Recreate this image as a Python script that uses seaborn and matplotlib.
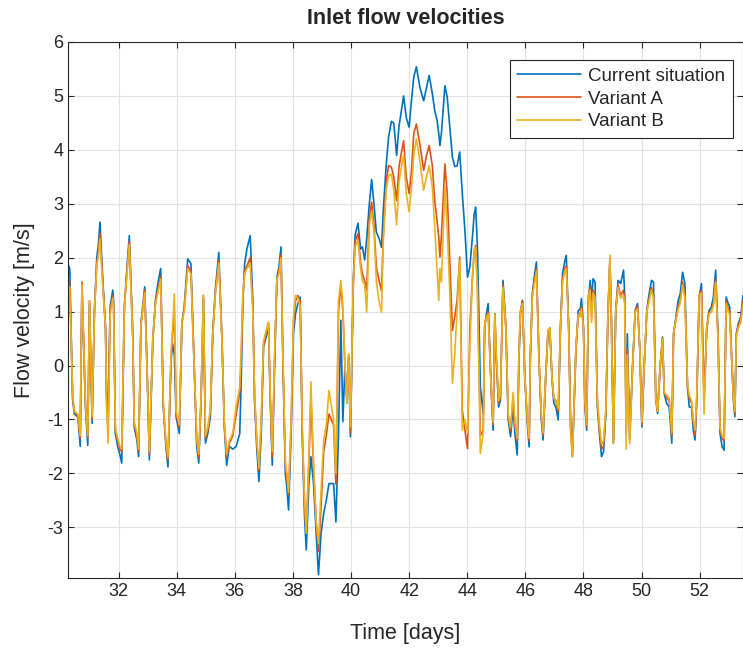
import pandas as pd
import seaborn as sns
import matplotlib.pyplot as plt

# time axis [days] at turning points
days = [
    30.25, 30.32, 30.42, 30.48, 30.60, 30.68, 30.74, 30.86, 30.94, 31.00,
    31.09, 31.17, 31.25, 31.31, 31.36, 31.46, 31.55, 31.59, 31.64, 31.71,
    31.80, 31.83, 31.89, 31.97, 32.05, 32.11, 32.20, 32.29, 32.37, 32.49,
    32.54, 32.63, 32.69, 32.77, 32.90, 32.98, 33.06, 33.18, 33.27, 33.37,
    33.45, 33.54, 33.63, 33.70, 33.81, 33.86, 33.92, 33.98, 34.09, 34.18,
    34.26, 34.38, 34.49, 34.61, 34.69, 34.76, 34.84, 34.92, 34.99, 35.07,
    35.16, 35.24, 35.33, 35.45, 35.56, 35.64, 35.72, 35.81, 35.93, 36.05,
    36.17, 36.22, 36.28, 36.34, 36.42, 36.53, 36.62, 36.68, 36.76, 36.83,
    36.91, 36.99, 37.08, 37.16, 37.22, 37.29, 37.37, 37.45, 37.52, 37.59,
    37.66, 37.74, 37.79, 37.85, 37.94, 38.02, 38.09, 38.17, 38.25, 38.32,
    38.40, 38.46, 38.55, 38.62, 38.71, 38.80, 38.88, 38.97, 39.06, 39.15,
    39.24, 39.40, 39.48, 39.57, 39.65, 39.72, 39.79, 39.86, 39.92, 39.98,
    40.08, 40.14, 40.24, 40.33, 40.39, 40.47, 40.54, 40.63, 40.71, 40.79,
    40.87, 40.97, 41.05, 41.11, 41.21, 41.29, 41.39, 41.47, 41.57, 41.65,
    41.74, 41.81, 41.90, 42.00, 42.08, 42.16, 42.25, 42.37, 42.50, 42.60,
    42.69, 42.80, 42.88, 42.96, 43.02, 43.06, 43.11, 43.23, 43.31, 43.40,
    43.49, 43.57, 43.65, 43.74, 43.83, 43.92, 44.01, 44.09, 44.18, 44.24,
    44.29, 44.35, 44.41, 44.45, 44.55, 44.60, 44.66, 44.72, 44.83, 44.89,
    44.95, 45.00, 45.08, 45.14, 45.23, 45.33, 45.41, 45.49, 45.58, 45.64,
    45.72, 45.78, 45.83, 45.90, 45.98, 46.06, 46.13, 46.17, 46.24, 46.32,
    46.38, 46.47, 46.55, 46.61, 46.70, 46.78, 46.84, 46.92, 46.98, 47.05,
    47.13, 47.21, 47.28, 47.36, 47.41, 47.49, 47.56, 47.62, 47.74, 47.82,
    47.89, 47.93, 48.00, 48.05, 48.11, 48.17, 48.23, 48.28, 48.33, 48.40,
    48.48, 48.55, 48.62, 48.69, 48.77, 48.84, 48.91, 48.96, 49.03, 49.11,
    49.19, 49.28, 49.38, 49.42, 49.47, 49.51, 49.59, 49.69, 49.78, 49.86,
    49.94, 50.01, 50.09, 50.18, 50.26, 50.34, 50.41, 50.49, 50.55, 50.64,
    50.72, 50.78, 50.86, 50.95, 51.04, 51.10, 51.18, 51.26, 51.33, 51.41,
    51.49, 51.58, 51.64, 51.72, 51.78, 51.84, 51.90, 51.98, 52.06, 52.15,
    52.24, 52.32, 52.40, 52.47, 52.55, 52.63, 52.70, 52.77, 52.84, 52.91,
    52.98, 53.03, 53.09, 53.16, 53.21, 53.26, 53.33, 53.41, 53.49,
]

# flow velocity [m/s]
current = [
    1.89, 1.80, -0.64, -0.90, -0.95, -1.50, 1.45, -0.77, -1.48, 1.15,
    -1.07, 1.02, 2.00, 2.26, 2.66, 1.58, 0.72, -0.58, -0.90, 1.09,
    1.40, 1.21, -1.26, -1.50, -1.66, -1.81, 1.09, 1.83, 2.41, 0.59,
    -1.14, -1.38, -1.69, 0.78, 1.46, -0.02, -1.75, 0.47, 1.21, 1.58,
    1.80, -0.77, -1.50, -1.88, 0.10, 0.40, 0.20, -0.95, -1.26, 0.78,
    1.09, 1.98, 1.89, -0.15, -1.50, -1.81, -0.64, 1.24, -1.44, -1.26,
    -0.95, 0.59, 1.40, 2.10, 0.47, -1.14, -1.85, -1.50, -1.55, -1.50,
    -1.26, -0.30, 1.21, 1.89, 2.17, 2.41, 1.21, -0.64, -1.57, -2.15,
    -1.26, 0.35, 0.53, 0.72, -0.64, -1.85, 0.00, 1.64, 1.83, 2.20,
    0.00, -2.00, -2.25, -2.68, -1.26, 0.59, 0.96, 1.15, 1.27, -1.26,
    -2.80, -3.42, -2.19, -1.69, -2.19, -3.11, -3.88, -3.11, -2.74, -2.50,
    -2.19, -2.19, -2.90, -1.26, 0.84, -1.04, 0.00, -0.64, 0.16, -1.32,
    1.57, 2.42, 2.64, 2.16, 2.20, 1.96, 2.35, 3.00, 3.45, 3.00,
    2.48, 2.35, 2.19, 2.87, 3.71, 4.23, 4.53, 4.50, 3.90, 4.43,
    4.75, 5.00, 4.60, 4.42, 4.91, 5.35, 5.54, 5.16, 4.91, 5.16,
    5.38, 5.04, 4.73, 4.55, 4.30, 4.08, 4.30, 5.19, 4.98, 4.42,
    3.86, 3.69, 3.70, 3.96, 3.19, 2.50, 1.64, 1.83, 2.40, 2.81,
    2.94, 2.20, 0.72, -0.40, -0.90, 0.72, 0.96, 1.15, -0.52, -1.20,
    0.96, 0.10, -0.77, -0.65, 1.58, 0.72, -1.00, -1.32, -0.77, -1.26,
    -1.66, 0.10, 0.96, 1.21, -0.21, -1.01, -1.51, 0.10, 1.33, 1.70,
    1.92, 0.10, -1.01, -1.38, -0.21, 0.62, 0.68, -0.27, -0.70, -0.77,
    -1.01, 0.72, 1.70, 1.95, 2.04, 0.72, -1.14, -1.69, 0.28, 1.02,
    1.05, 1.24, 0.72, -0.77, -1.20, 1.21, 1.58, 1.21, 1.61, 1.55,
    -0.77, -1.26, -1.69, -1.60, -0.90, 0.90, 1.95, 0.90, -1.44, 1.02,
    1.58, 1.52, 1.77, 1.30, -1.26, 0.59, -1.38, -0.02, 1.02, 1.15,
    0.28, -1.14, -0.02, 1.02, 1.33, 1.58, 1.55, -0.64, -0.89, -0.02,
    0.53, -0.52, -0.70, -0.77, -1.44, 0.59, 0.90, 1.21, 1.33, 1.73,
    1.52, -0.40, -0.77, -0.77, -1.20, -1.38, -0.64, 1.27, 1.52, -0.64,
    0.65, 1.02, 1.08, 1.27, 1.77, 0.59, -1.26, -1.50, -1.57, 1.27,
    1.15, 1.09, 0.28, -0.64, -0.95, 0.59, 0.78, 0.90, 1.30,
]

variant_a = [
    1.60, 1.55, -0.60, -0.85, -0.95, -1.35, 1.55, -0.70, -1.35, 1.20,
    -1.00, 1.00, 1.90, 2.10, 2.45, 1.50, 0.70, -0.70, -1.20, 1.00,
    1.30, 1.10, -1.20, -1.40, -1.55, -1.60, 1.10, 1.75, 2.30, 0.50,
    -1.10, -1.30, -1.60, 0.75, 1.40, -0.05, -1.65, 0.50, 1.15, 1.45,
    1.65, -0.75, -1.45, -1.75, 0.20, 0.60, 1.00, -0.90, -1.15, 0.80,
    1.05, 1.85, 1.75, -0.10, -1.40, -1.70, -0.60, 1.30, -1.35, -1.20,
    -0.85, 0.55, 1.35, 1.95, 0.45, -1.10, -1.70, -1.45, -1.30, -0.90,
    -0.50, 0.10, 1.30, 1.75, 1.85, 2.00, 1.10, -0.60, -1.45, -1.95,
    -1.10, 0.40, 0.60, 0.80, -0.60, -1.70, 0.10, 1.60, 1.75, 2.05,
    0.00, -1.85, -2.05, -2.40, -1.10, 0.80, 1.20, 1.30, 1.20, -1.20,
    -2.60, -3.10, -1.80, -0.60, -1.90, -2.90, -3.45, -2.60, -1.60, -1.30,
    -0.90, -1.10, -2.20, 1.00, 1.50, 1.00, 0.00, -0.70, 0.20, -1.25,
    1.57, 2.30, 2.45, 1.90, 1.70, 1.57, 1.40, 2.74, 3.03, 2.60,
    1.83, 1.57, 1.38, 2.40, 3.39, 3.71, 3.68, 3.50, 3.06, 3.68,
    3.97, 4.17, 3.50, 3.19, 3.60, 4.30, 4.48, 4.10, 3.62, 3.90,
    4.08, 3.70, 3.06, 2.69, 2.38, 2.01, 2.40, 3.74, 3.20, 1.95,
    0.65, 0.90, 1.21, 2.01, -0.83, -1.20, -1.54, 0.72, 1.64, 2.14,
    2.23, 1.50, -0.20, -1.30, -1.20, 0.75, 0.90, 1.00, -0.50, -1.10,
    0.95, 0.15, -0.70, -0.60, 1.50, 0.70, -0.95, -1.20, -0.60, -1.10,
    -1.40, 0.20, 1.00, 1.20, -0.20, -0.95, -1.40, 0.15, 1.30, 1.60,
    1.80, 0.10, -0.95, -1.30, -0.20, 0.65, 0.70, -0.25, -0.60, -0.65,
    -0.85, 0.75, 1.60, 1.80, 1.85, 0.70, -1.20, -1.60, 0.30, 0.95,
    0.95, 1.10, 0.70, -0.70, -1.15, 1.30, 1.45, 0.90, 1.40, 1.30,
    -0.70, -1.20, -1.55, -1.50, -0.85, 0.90, 2.00, 0.80, -1.40, 1.00,
    1.50, 1.30, 1.40, 1.20, -1.20, 0.30, -1.30, 0.00, 1.00, 1.10,
    0.30, -1.10, 0.00, 1.00, 1.25, 1.45, 1.30, -0.60, -0.85, 0.00,
    0.50, -0.50, -0.60, -0.65, -1.30, 0.60, 0.85, 1.10, 1.20, 1.55,
    1.30, -0.40, -0.60, -0.70, -1.05, -1.30, -0.60, 1.30, 1.40, -0.60,
    0.70, 1.00, 1.00, 1.15, 1.60, 0.50, -1.20, -1.35, -1.40, 1.20,
    1.05, 1.00, 0.25, -0.60, -0.90, 0.55, 0.75, 0.85, 1.20,
]

variant_b = [
    1.50, 1.45, -0.55, -0.85, -0.90, -1.30, 1.50, -0.70, -1.30, 1.20,
    -0.95, 1.00, 1.85, 2.05, 2.35, 1.45, 0.70, -0.80, -1.44, 0.95,
    1.25, 1.05, -1.15, -1.35, -1.50, -1.55, 1.10, 1.70, 2.25, 0.50,
    -1.05, -1.25, -1.55, 0.75, 1.35, -0.05, -1.60, 0.50, 1.15, 1.40,
    1.60, -0.70, -1.40, -1.70, 0.25, 0.70, 1.33, -0.85, -1.10, 0.80,
    1.00, 1.80, 1.70, -0.10, -1.35, -1.65, -0.55, 1.30, -1.30, -1.15,
    -0.80, 0.55, 1.30, 1.90, 0.45, -1.05, -1.65, -1.40, -1.25, -0.75,
    -0.40, 0.30, 1.35, 1.70, 1.80, 1.90, 1.00, -0.50, -1.40, -1.90,
    -1.00, 0.45, 0.65, 0.80, -0.50, -1.60, 0.20, 1.60, 1.70, 2.00,
    0.10, -1.80, -2.00, -2.35, -1.00, 0.90, 1.30, 1.25, 1.10, -1.10,
    -2.50, -3.11, -1.70, -0.30, -1.80, -2.90, -3.30, -2.30, -1.38, -1.10,
    -0.46, -1.00, -2.00, 1.21, 1.58, 1.09, 0.00, -0.70, 0.22, -1.14,
    1.57, 2.20, 2.32, 1.80, 1.57, 1.50, 0.99, 2.61, 2.87, 2.48,
    1.57, 1.18, 0.99, 2.30, 3.26, 3.52, 3.55, 3.26, 2.61, 3.39,
    3.71, 3.90, 3.20, 2.85, 3.30, 3.90, 4.20, 3.80, 3.25, 3.50,
    3.71, 3.30, 2.57, 1.80, 1.21, 1.80, 1.55, 3.31, 2.57, 1.33,
    -0.33, 0.20, 1.02, 1.95, -1.20, -1.00, -1.25, 0.40, 1.64, 2.14,
    2.20, 1.40, -0.30, -1.63, -1.26, 0.75, 0.90, 0.95, -0.45, -1.05,
    0.95, 0.20, -0.65, -0.55, 1.45, 0.70, -0.90, -1.15, -0.50, -1.05,
    -1.35, 0.25, 1.00, 1.15, -0.20, -0.90, -1.35, 0.20, 1.30, 1.55,
    1.75, 0.10, -0.90, -1.25, -0.20, 0.65, 0.70, -0.25, -0.60, -0.65,
    -0.80, 0.75, 1.55, 1.75, 1.80, 0.70, -1.30, -1.70, 0.35, 0.95,
    0.90, 1.05, 0.70, -0.65, -1.10, 1.30, 1.40, 0.80, 1.35, 1.25,
    -0.65, -1.10, -1.45, -1.40, -0.80, 0.90, 2.05, 0.80, -1.45, 1.00,
    1.45, 1.25, 1.30, 1.15, -1.55, 0.20, -1.45, 0.00, 1.00, 1.05,
    0.30, -1.05, 0.00, 1.00, 1.20, 1.40, 1.25, -0.60, -0.85, 0.00,
    0.50, -0.50, -0.55, -0.60, -1.25, 0.60, 0.85, 1.05, 1.15, 1.50,
    1.25, -0.35, -0.55, -0.65, -1.00, -1.20, -0.55, 1.30, 1.35, -0.90,
    0.70, 0.95, 1.00, 1.10, 1.55, 0.50, -1.15, -1.30, -1.35, 1.15,
    1.00, 0.95, 0.25, -0.60, -0.85, 0.55, 0.70, 0.80, 1.15,
]

series_names = ["Current situation", "Variant A", "Variant B"]
series_colors = ["#0072BD", "#D95319", "#EDB120"]

assert len(days) == len(current) == len(variant_a) == len(variant_b)

df = pd.concat([
    pd.DataFrame({"t": days, "v": vals, "case": name})
    for name, vals in zip(series_names, [current, variant_a, variant_b])
])

sns.set_style("whitegrid")
plt.rcParams["font.family"] = ["Liberation Sans", "DejaVu Sans"]
plt.rcParams["axes.unicode_minus"] = False

fig = plt.figure(figsize=(7.43, 6.48), dpi=100)
ax = fig.add_axes([68 / 743, 70 / 648, 675 / 743, 536 / 648])

sns.lineplot(data=df, x="t", y="v", hue="case", hue_order=series_names,
             palette=dict(zip(series_names, series_colors)),
             estimator=None, sort=False, linewidth=1.2, ax=ax, legend=False)

ax.set_xlim(30.26, 53.49)
ax.set_ylim(-3.94, 6)
ax.set_xticks(range(32, 53, 2))
ax.set_yticks(range(-3, 7))
ax.grid(True, color="#e3e3e3", linewidth=0.8)
for s in ax.spines.values():
    s.set_color("#262626")
    s.set_linewidth(0.8)
ax.tick_params(direction="in", length=4, width=0.8, color="#262626",
               labelsize=13, labelcolor="#262626",
               top=True, right=True, bottom=True, left=True)

ax.set_xlabel("Time [days]", fontsize=15.5, color="#262626", labelpad=17)
ax.set_ylabel("Flow velocity [m/s]", fontsize=15.5, color="#262626", labelpad=9)
ax.set_title("Inlet flow velocities", fontsize=15.5, fontweight="bold", pad=13)

handles = [plt.Line2D([], [], color=c, lw=1.2) for c in series_colors]
leg = ax.legend(handles, series_names, loc="upper right",
                bbox_to_anchor=(0.985, 0.966), borderaxespad=0,
                fontsize=13.5, fancybox=False, framealpha=1,
                edgecolor="#262626", handlelength=3.4, handletextpad=0.4,
                labelspacing=0.3, borderpad=0.4)
leg.get_frame().set_linewidth(0.8)

fig.savefig("out.png", dpi=100)
